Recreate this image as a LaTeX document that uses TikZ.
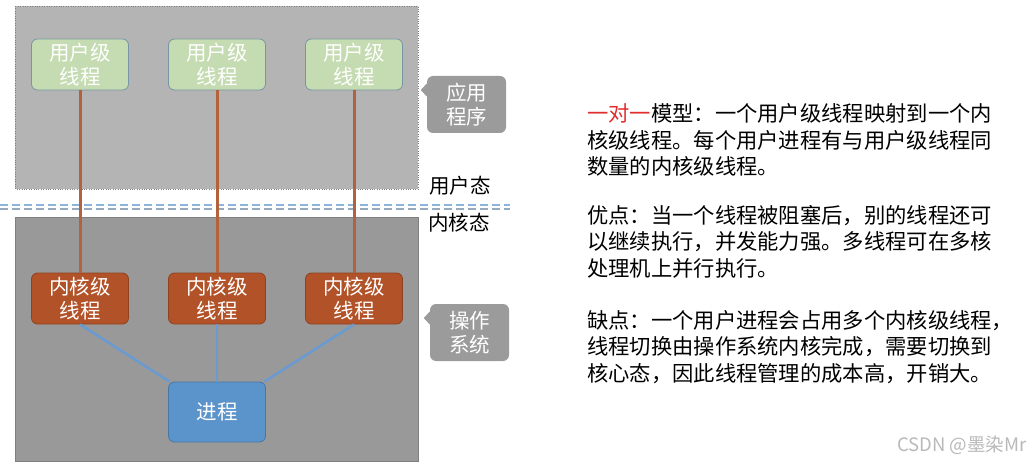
\documentclass[tikz,border=0pt]{standalone}
\usepackage{fontspec}
\setmainfont{Noto Sans CJK SC}
\usetikzlibrary{positioning}

\definecolor{topgray}{RGB}{180,180,180}
\definecolor{botgray}{RGB}{153,153,153}
\definecolor{usergreen}{RGB}{197,219,177}
\definecolor{userborder}{RGB}{118,150,165}
\definecolor{kernelbrown}{RGB}{178,82,40}
\definecolor{procblue}{RGB}{91,148,203}
\definecolor{linkbrown}{RGB}{178,98,60}
\definecolor{linkblue}{RGB}{105,155,210}
\definecolor{calloutgray}{RGB}{155,155,155}
\definecolor{sepblue}{RGB}{140,180,220}
\definecolor{sepgray}{RGB}{150,170,190}
\definecolor{modelred}{RGB}{225,45,45}

\tikzset{
  thread/.style={rounded corners=6pt, minimum width=97pt, minimum height=51pt,
    align=center, inner sep=0pt, font=\fontsize{20.5}{24}\selectfont},
  userthread/.style={thread, fill=usergreen, draw=userborder, line width=0.8pt,
    text=white},
  kernelthread/.style={thread, fill=kernelbrown, draw=kernelbrown!80!black,
    line width=0.8pt, text=white},
  procbox/.style={thread, minimum height=60pt, fill=procblue,
    draw=procblue!80!black, line width=0.8pt, text=white},
  callout/.style={rounded corners=6pt, fill=calloutgray, text=white,
    minimum width=79pt, minimum height=57pt, inner sep=0pt, align=center,
    font=\fontsize{20.5}{24}\selectfont},
  modelabel/.style={font=\fontsize{20.5}{24}\selectfont, inner sep=0pt},
  para/.style={anchor=base west, align=left, inner sep=0pt,
    font=\fontsize{21.3}{26.5}\selectfont},
  brownlink/.style={linkbrown, line width=3pt},
  bluelink/.style={linkblue, line width=2.5pt},
  sepline/.style={dash pattern=on 8pt off 4pt, line width=1.3pt}
}

\begin{document}
\begin{tikzpicture}[x=1pt,y=-1pt]
  \useasboundingbox (0,0) rectangle (1036,465);
  \fill[white] (0,0) rectangle (1036,465);

  % user space and kernel space
  \draw[dotted, draw=gray, fill=topgray] (15,6) rectangle (418,189);
  \draw[draw=gray, fill=botgray] (15,217) rectangle (418,461);
  \draw[sepline, sepblue] (0,205) -- (510,205);
  \draw[sepline, sepgray] (0,209) -- (510,209);

  \foreach \i/\x in {1/80,2/217,3/354} {
      \node[userthread] (u\i) at (\x,64.5) {用户级\\线程};
      \node[kernelthread] (k\i) at (\x,298.5) {内核级\\线程};
    }
  \node[procbox] (p) at (217,412) {进程};

  \foreach \i in {1,2,3} {
      \draw[brownlink] (u\i) -- (k\i);
      \draw[bluelink] (k\i.south) -- (p);
    }

  % callouts
  \node[callout] (app) at (466.5,104.5) {应用\\程序};
  \fill[calloutgray] ([yshift=21pt]app.west) -- ([xshift=-6pt,yshift=14.5pt]app.west)
    -- ([yshift=8pt]app.west) -- cycle;
  \node[callout] (os) at (469.5,332.5) {操作\\系统};
  \fill[calloutgray] ([yshift=21pt]os.west) -- ([xshift=-6pt,yshift=14.5pt]os.west)
    -- ([yshift=8pt]os.west) -- cycle;

  \node[modelabel] (usermode) at (460,186) {用户态};
  \node[modelabel] (kernelmode) at (459,223) {内核态};

  % description (base = last line)
  \node[para] (model) at (587,175) {\textcolor{modelred}{一对一}模型：一个用户级线程映射到一个内\\
    核级线程。每个用户进程有与用户级线程同\\数量的内核级线程。};
  \node[para] (pros) at (587,276) {优点：当一个线程被阻塞后，别的线程还可\\
    以继续执行，并发能力强。多线程可在多核\\处理机上并行执行。};
  \node[para] (cons) at (587,381) {缺点：一个用户进程会占用多个内核级线程，\\
    线程切换由操作系统内核完成，需要切换到\\核心态，因此线程管理的成本高，开销大。};

  \node[anchor=west, inner sep=0pt, text=gray!55, font=\fontsize{18.5}{20}\selectfont]
    (mark) at (897,445) {CSDN @墨染Mr};
\end{tikzpicture}
\end{document}
